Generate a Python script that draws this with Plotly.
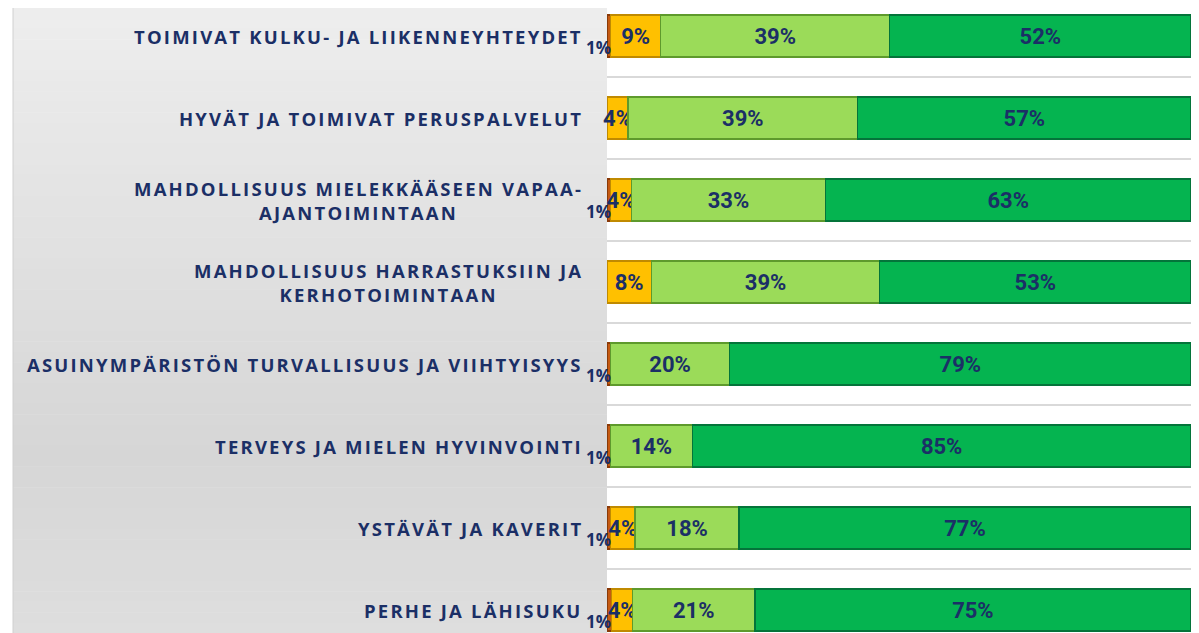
import plotly.graph_objects as go

categories = [
    "TOIMIVAT KULKU- JA LIIKENNEYHTEYDET",
    "HYVÄT JA TOIMIVAT PERUSPALVELUT",
    "MAHDOLLISUUS MIELEKKÄÄSEEN VAPAA-<br>AJANTOIMINTAAN",
    "MAHDOLLISUUS HARRASTUKSIIN JA<br>KERHOTOIMINTAAN",
    "ASUINYMPÄRISTÖN TURVALLISUUS JA VIIHTYISYYS",
    "TERVEYS JA MIELEN HYVINVOINTI",
    "YSTÄVÄT JA KAVERIT",
    "PERHE JA LÄHISUKU",
]
series_names = ["Ei lainkaan tärkeä", "Ei kovin tärkeä", "Melko tärkeä", "Erittäin tärkeä"]
s1 = [0.6, 0.0, 0.6, 0.0, 0.6, 0.6, 0.6, 0.8]
s2 = [8.6, 3.6, 3.6, 7.6, 0.0, 0.0, 4.2, 3.6]
s3 = [39.2, 39.3, 33.2, 39.1, 20.4, 14.0, 17.8, 20.9]
s4 = [51.6, 57.1, 62.6, 53.3, 79.0, 85.4, 77.4, 74.7]

colors = ["#C55A11", "#FFC000", "#9BDB59", "#05B450"]
line_colors = ["#8A3A08", "#C08A00", "#5E9A2C", "#04743A"]
NAVY = "#1B2F66"

# page body has an 8px margin; figure is placed at (8, 8) in the window
OFF = 8
W_PX, H_PX = 1199 - OFF, 633 - OFF
L = 607 - OFF
R = 8
plot_w = W_PX - L - R

fig = go.Figure()
for i, (name, vals) in enumerate(zip(series_names, [s1, s2, s3, s4])):
    txt = [("" if (i == 0 or v < 0.5) else f"{v:.0f}%") for v in vals]
    fig.add_trace(go.Bar(
        y=categories, x=vals, orientation="h", name=name,
        marker=dict(color=colors[i], line=dict(color=line_colors[i], width=1.5)),
        text=txt, textposition="inside", insidetextanchor="middle",
        textangle=0, constraintext="none", cliponaxis=False,
        textfont=dict(family="Roboto", size=22, color=NAVY, weight="bold"),
        hoverinfo="skip",
    ))

SP = '<span style="letter-spacing:2.2px">'
annotations = []
for c in categories:
    annotations.append(dict(
        x=0, xref="paper", y=c, yref="y",
        text=SP + c.replace("<br>", "</span><br>" + SP) + "</span>",
        showarrow=False,
        xanchor="right", yanchor="middle", align="center", xshift=-22,
        font=dict(family="Open Sans", size=18.5, color=NAVY, weight="bold"),
    ))
for c, v in zip(categories, s1):
    if v > 0:
        annotations.append(dict(
            x=0, xref="x", y=c, yref="y", text=f"{v:.0f}%", showarrow=False,
            xanchor="center", yanchor="middle", xshift=-9, yshift=-11,
            font=dict(family="Open Sans", size=17, color=NAVY, weight="bold"),
        ))

def px_x(p):
    return (p - OFF - L) / plot_w

def px_y(q):
    return 1 - (q - OFF) / H_PX

shapes = []
stops = [(0, (238, 238, 238)), (450, (214, 214, 214)), (633, (222, 222, 222))]
N = 60
for k in range(N):
    q0 = OFF + (633 - OFF) * k / N
    q1 = OFF + (633 - OFF) * (k + 1) / N
    qm = (q0 + q1) / 2
    for (a, ca), (b, cb) in zip(stops[:-1], stops[1:]):
        if a <= qm <= b:
            t = (qm - a) / (b - a)
            col = tuple(round(ca[j] + (cb[j] - ca[j]) * t) for j in range(3))
            break
    shapes.append(dict(type="rect", xref="paper", yref="paper",
                       x0=px_x(13), x1=px_x(607), y0=px_y(q1 + 0.5), y1=px_y(q0),
                       fillcolor="rgb(%d,%d,%d)" % col, line=dict(width=0), layer="below"))
shapes.append(dict(type="line", xref="paper", yref="paper", x0=px_x(13), x1=px_x(13),
                   y0=0, y1=1, line=dict(color="#D0D0D0", width=1), layer="below"))
shapes.append(dict(type="rect", xref="paper", yref="paper", x0=px_x(1192), x1=px_x(1199),
                   y0=0, y1=1, fillcolor="#E6E6E6", line=dict(width=0), layer="below"))

# row 1 centre at window y=36, 82px per row
top_idx = -(36 - OFF) / 82
bot_idx = (633 - OFF - (36 - OFF)) / 82

fig.update_layout(
    width=W_PX, height=H_PX,
    barmode="stack", bargap=0.49,
    showlegend=False,
    margin=dict(l=L, r=R, t=0, b=0, pad=0),
    paper_bgcolor="white", plot_bgcolor="white",
    xaxis=dict(range=[0, 100], visible=False, fixedrange=True),
    yaxis=dict(categoryorder="array", categoryarray=categories,
               range=[bot_idx, top_idx], showticklabels=False, ticks="",
               showgrid=True, gridcolor="#D9D9D9", gridwidth=1.5,
               tickson="boundaries", zeroline=False, showline=False),
    annotations=annotations,
    shapes=shapes,
)

fig.write_html("out.html", config={"displayModeBar": False})
